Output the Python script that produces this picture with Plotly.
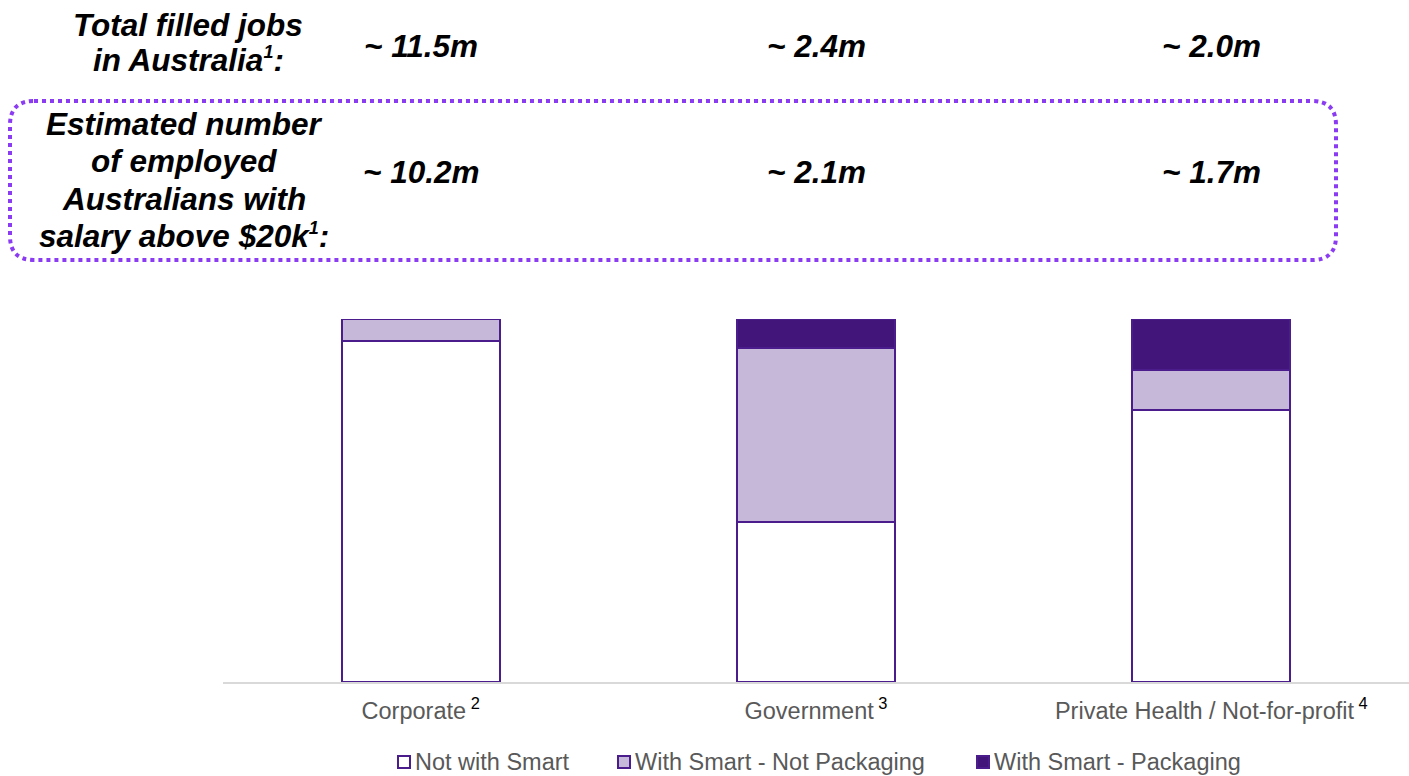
import plotly.graph_objects as go

# Sector categories and their tick labels (with footnote markers)
categories = ["Corporate", "Government", "Private Health / Not-for-profit"]
tick_labels = [
    "Corporate<span style='color:#000000'><sup> 2</sup></span>",
    "Government<span style='color:#000000'><sup> 3</sup></span>",
    "Private Health / Not-for-profit<span style='color:#000000'><sup> 4</sup></span>",
]

# Share of employees in each sector (%)
not_with_smart = [94, 44, 75]
with_smart_not_packaging = [6, 48, 11]
with_smart_packaging = [0, 8, 14]

# Headline figures shown above each bar
total_filled_jobs = ["~ 11.5m", "~ 2.4m", "~ 2.0m"]
employed_above_20k = ["~ 10.2m", "~ 2.1m", "~ 1.7m"]

FOOTNOTE_1 = "<sup><span style='font-size:18px'>1</span></sup>"
row1_label = ["Total filled jobs", f"in Australia{FOOTNOTE_1}:"]
row2_label = ["Estimated number", "of employed", "Australians with",
              f"salary above $20k{FOOTNOTE_1}:"]

W, H = 1409, 776
OUTLINE = "#4B1C8C"
DARK = "#41157A"
LIGHT = "#C6B8D9"
TEXT_GREY = "#595959"
FONT = "Liberation Sans, Arial, sans-serif"


def px(x):
    return x / W


def py(y):
    return 1 - y / H


fig = go.Figure()
series = [
    ("Not with Smart", not_with_smart, "#FFFFFF"),
    ("With Smart - Not Packaging", with_smart_not_packaging, LIGHT),
    ("With Smart - Packaging", with_smart_packaging, DARK),
]
for name, vals, color in series:
    fig.add_trace(go.Bar(
        x=categories, y=vals, name=name, width=0.4, showlegend=False,
        marker=dict(color=color, line=dict(color=OUTLINE, width=2)),
        hoverinfo="skip",
    ))

annotations = []
shapes = []
bold_font = dict(family=FONT, size=31.5, color="#000000")

# Row labels on the left
for txt, yc in zip(row1_label, [25, 60]):
    annotations.append(dict(
        text=f"<b><i>{txt}</i></b>", x=px(188), y=py(yc), xref="paper", yref="paper",
        xanchor="center", yanchor="middle", showarrow=False, font=bold_font))
for txt, yc in zip(row2_label, [124, 161, 199, 236]):
    annotations.append(dict(
        text=f"<b><i>{txt}</i></b>", x=px(184), y=py(yc), xref="paper", yref="paper",
        xanchor="center", yanchor="middle", showarrow=False, font=bold_font))

# Headline values above each category
for cat, v1, v2 in zip(categories, total_filled_jobs, employed_above_20k):
    annotations.append(dict(
        text=f"<b><i>{v1}</i></b>", x=cat, y=py(46), xref="x", yref="paper",
        xanchor="center", yanchor="middle", showarrow=False, font=bold_font))
    annotations.append(dict(
        text=f"<b><i>{v2}</i></b>", x=cat, y=py(172), xref="x", yref="paper",
        xanchor="center", yanchor="middle", showarrow=False, font=bold_font))

# Rounded dotted frame around the second row
L, R, T, B, r = 10, 1336, 101, 260, 24
path = (
    f"M{px(L + r)},{py(T)} H{px(R - r)} Q{px(R)},{py(T)} {px(R)},{py(T + r)} "
    f"V{py(B - r)} Q{px(R)},{py(B)} {px(R - r)},{py(B)} H{px(L + r)} "
    f"Q{px(L)},{py(B)} {px(L)},{py(B - r)} V{py(T + r)} "
    f"Q{px(L)},{py(T)} {px(L + r)},{py(T)} Z"
)
shapes.append(dict(type="path", path=path, xref="paper", yref="paper",
                   line=dict(color="#8B3CF2", width=4, dash="dot")))

# Legend: a small swatch followed by the series name
legend_swatch_x = [397, 617, 976]
legend_y = 762
for (name, _, color), sx in zip(series, legend_swatch_x):
    shapes.append(dict(type="rect", xref="paper", yref="paper",
                       x0=px(sx + 1), x1=px(sx + 13),
                       y0=py(legend_y + 6), y1=py(legend_y - 6),
                       fillcolor=color, line=dict(color=OUTLINE, width=2)))
    annotations.append(dict(
        text=name, x=px(sx + 16), y=py(legend_y), xref="paper", yref="paper",
        xanchor="left", yanchor="middle", showarrow=False,
        font=dict(family=FONT, size=23.5, color=TEXT_GREY)))

fig.update_layout(
    width=W, height=H,
    margin=dict(l=0, r=0, t=0, b=0, autoexpand=False),
    paper_bgcolor="#FFFFFF", plot_bgcolor="#FFFFFF",
    barmode="stack",
    showlegend=False,
    xaxis=dict(domain=[px(223), 1], range=[-0.5, 2.5],
               tickmode="array", tickvals=categories, ticktext=tick_labels,
               tickfont=dict(family=FONT, size=23.5, color=TEXT_GREY),
               showline=True, linecolor="#D9D9D9", linewidth=2,
               ticks="", showgrid=False, zeroline=False, ticklabelstandoff=7,
               automargin=False),
    yaxis=dict(domain=[py(682), py(319)], range=[0, 100], visible=False,
               showgrid=False, zeroline=False),
    annotations=annotations,
    shapes=shapes,
)

fig.write_html("out.html")
